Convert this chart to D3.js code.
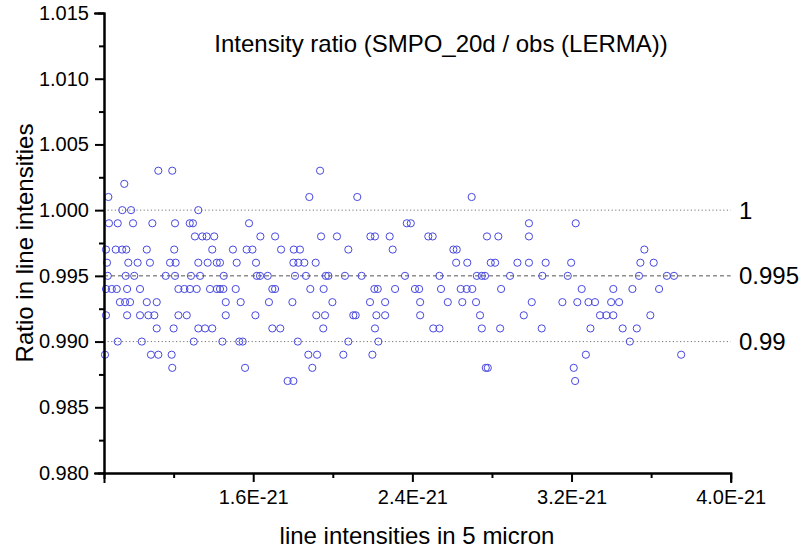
<!DOCTYPE html>
<html><head><meta charset="utf-8">
<script src="https://cdn.jsdelivr.net/npm/d3@7"></script>
<style>
html,body{margin:0;padding:0;background:#fff;}
svg{display:block;font-family:"Liberation Sans",Arial,sans-serif;}
</style></head>
<body><svg id="c" width="803" height="550"></svg>
<script>
// Intensities in units of 1E-21, grouped by the ratio level they sit on
const r1003 = [1.123, 1.193, 1.936];
const r1002 = [0.952];
const r1001 = [0.872, 1.882, 2.123, 2.698];
const r1000 = [0.942, 0.986, 1.324];
const r0999 = [0.875, 0.919, 0.996, 1.093, 1.207, 1.281, 1.297, 1.579, 2.372, 2.392, 2.986, 3.221];
const r0998 = [1.307, 1.344, 1.366, 1.404, 1.636, 1.710, 1.941, 2.021, 2.189, 2.212, 2.286, 2.480, 2.502, 2.775, 2.832, 2.986];
const r0997 = [0.860, 0.909, 0.941, 0.962, 1.065, 1.203, 1.394, 1.498, 1.567, 1.596, 1.740, 1.804, 1.835, 2.078, 2.301, 2.606, 2.623, 3.566];
const r0996 = [0.865, 0.972, 1.019, 1.081, 1.182, 1.210, 1.324, 1.371, 1.417, 1.433, 1.517, 1.614, 1.802, 1.827, 1.857, 1.914, 2.620, 2.676, 2.794, 2.816, 2.928, 2.986, 3.070, 3.198, 3.546, 3.613];
const r0995 = [0.869, 0.959, 1.002, 1.160, 1.207, 1.287, 1.333, 1.452, 1.618, 1.634, 1.673, 1.810, 1.865, 1.965, 1.978, 2.061, 2.145, 2.363, 2.536, 2.724, 2.749, 2.765, 2.891, 3.053, 3.181, 3.539, 3.679, 3.715];
const r0994 = [0.860, 0.889, 0.914, 0.966, 1.031, 1.224, 1.254, 1.282, 1.316, 1.383, 1.417, 1.433, 1.450, 1.512, 1.696, 1.710, 1.887, 1.954, 2.209, 2.226, 2.313, 2.413, 2.434, 2.544, 2.643, 2.673, 2.701, 2.846, 3.251, 3.410, 3.506, 3.640];
const r0993 = [0.930, 0.956, 0.981, 1.065, 1.115, 1.462, 1.537, 1.679, 1.797, 1.998, 2.187, 2.263, 2.439, 2.578, 2.651, 2.720, 3.000, 3.154, 3.229, 3.285, 3.318, 3.399, 3.439];
const r0992 = [0.860, 0.966, 1.031, 1.073, 1.103, 1.224, 1.266, 1.462, 1.611, 1.917, 1.961, 2.103, 2.115, 2.219, 2.263, 2.439, 2.740, 2.960, 3.343, 3.375, 3.410, 3.596];
const r0991 = [1.115, 1.200, 1.324, 1.358, 1.394, 1.696, 1.736, 1.952, 2.212, 2.505, 2.536, 2.749, 2.841, 3.050, 3.295, 3.457, 3.528];
const r0990 = [0.919, 1.040, 1.301, 1.445, 1.530, 1.547, 1.824, 2.078, 2.229, 3.493];
const r0989 = [0.855, 1.086, 1.123, 1.190, 1.877, 1.921, 2.053, 2.199, 3.272, 3.751];
const r0988 = [1.193, 1.559, 1.897, 2.769, 2.779, 3.211];
const r0987 = [1.773, 1.802, 3.218];

const ratioLevels = [1.003, 1.002, 1.001, 1.000, 0.999, 0.998, 0.997, 0.996, 0.995, 0.994, 0.993, 0.992, 0.991, 0.990, 0.989, 0.988, 0.987];
const levelSeries = [r1003, r1002, r1001, r1000, r0999, r0998, r0997, r0996, r0995, r0994, r0993, r0992, r0991, r0990, r0989, r0988, r0987];

const xTicks = [1.6, 2.4, 3.2, 4.0];
const xTickLabels = ["1.6E-21", "2.4E-21", "3.2E-21", "4.0E-21"];
const xMinorTicks = [1.2, 2.0, 2.8, 3.6];
const yTicks = [0.980, 0.985, 0.990, 0.995, 1.000, 1.005, 1.010, 1.015];
const yMinorTicks = [0.9825, 0.9875, 0.9925, 0.9975, 1.0025, 1.0075, 1.0125];
const refLines = [1.0, 0.995, 0.99];
const refLabels = ["1", "0.995", "0.99"];

const titleText = "Intensity ratio (SMPO_20d / obs (LERMA))";
const xTitle = "line intensities in 5 micron";
const yTitle = "Ratio in line intensities";

const points = [];
ratioLevels.forEach((r, i) => levelSeries[i].forEach(v => points.push({x: v, y: r})));

const svg = d3.select("#c");
const x = d3.scaleLinear().domain([0.85, 4.0]).range([104, 730.7]);
const y = d3.scaleLinear().domain([0.98, 1.015]).range([473, 13]);

// reference lines
const refStyles = [
  {dash: "1.2,2.4", color: "#777"},
  {dash: "4,3", color: "#555"},
  {dash: "1.2,2.4", color: "#777"}
];
refLines.forEach((v, i) => {
  svg.append("line")
    .attr("x1", x(0.85)).attr("x2", x(4.0))
    .attr("y1", y(v)).attr("y2", y(v))
    .attr("stroke", refStyles[i].color).attr("stroke-width", 1)
    .attr("stroke-dasharray", refStyles[i].dash);
  svg.append("text")
    .attr("x", 739).attr("y", y(v)).attr("dy", "0.36em")
    .attr("font-size", 24).attr("fill", "#000")
    .text(refLabels[i]);
});

// points
svg.append("g").selectAll("circle").data(points).join("circle")
  .attr("cx", d => x(d.x)).attr("cy", d => y(d.y)).attr("r", 3.6)
  .attr("fill", "none").attr("stroke", "#4848e0").attr("stroke-width", 1);

// axes
const yAxis = d3.axisLeft(y).tickValues(yTicks).tickSize(9).tickPadding(6).tickFormat(d3.format(".3f"));
const yMinor = d3.axisLeft(y).tickValues(yMinorTicks).tickSize(5).tickFormat("");
const xAxis = d3.axisBottom(x).tickValues(xTicks).tickSize(9).tickPadding(8).tickFormat((d, i) => xTickLabels[i]);
const xMinor = d3.axisBottom(x).tickValues(xMinorTicks).tickSize(5).tickFormat("");

function styleAxis(g) {
  g.select(".domain").attr("stroke", "#000").attr("stroke-width", 2);
  g.selectAll(".tick line").attr("stroke", "#000").attr("stroke-width", 2);
  g.selectAll(".tick text").attr("fill", "#000").attr("font-size", 20)
    .attr("font-family", "'Liberation Sans', Arial, sans-serif");
}
svg.append("g").attr("transform", "translate(104,0)").call(yMinor).call(styleAxis);
svg.append("g").attr("transform", "translate(104,0)").call(yAxis).call(styleAxis);
svg.append("g").attr("transform", "translate(0,473)").call(xMinor).call(styleAxis);
svg.append("g").attr("transform", "translate(0,473)").call(xAxis).call(styleAxis);
svg.selectAll(".domain").attr("stroke-linecap", "square");

// titles
svg.append("text").attr("x", 441).attr("y", 52).attr("text-anchor", "middle")
  .attr("font-size", 24).attr("fill", "#000").text(titleText);
svg.append("text").attr("x", 417).attr("y", 544).attr("text-anchor", "middle")
  .attr("font-size", 24).attr("fill", "#000").text(xTitle);
svg.append("text").attr("transform", "translate(33,243) rotate(-90)").attr("text-anchor", "middle")
  .attr("font-size", 24).attr("fill", "#000").text(yTitle);
</script></body></html>
